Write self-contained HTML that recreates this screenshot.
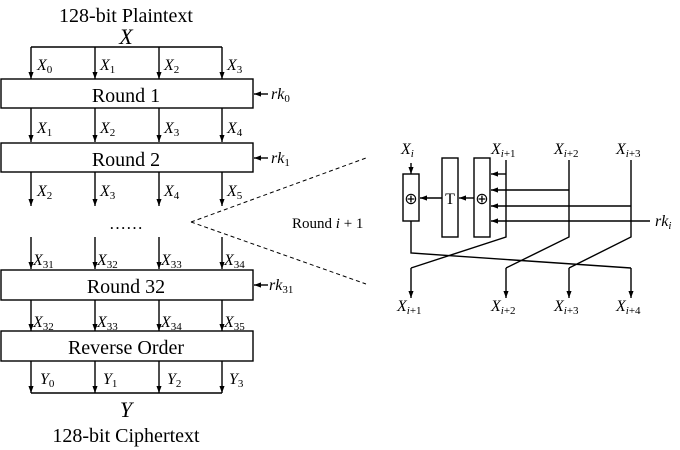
<!DOCTYPE html>
<html><head><meta charset="utf-8"><style>
html,body{margin:0;padding:0;background:#fff}
svg{display:block}
text{font-family:"Liberation Serif",serif;fill:#000}
.i{font-style:italic}
</style></head><body>
<svg width="680" height="450" viewBox="0 0 680 450" xmlns="http://www.w3.org/2000/svg">
<defs>
<marker id="a" viewBox="0 0 6 6" refX="6" refY="3" markerWidth="5" markerHeight="5" orient="auto"><path d="M0,0.8 L6,3 L0,5.2z" fill="#000"/></marker>
</defs>
<g stroke="#000" stroke-width="1.4" fill="none">
<path d="M31,47 H222"/>
<g marker-end="url(#a)">
<path d="M31,47 V79"/><path d="M95,47 V79"/><path d="M159,47 V79"/><path d="M222,47 V79"/>
<path d="M31,108 V142"/><path d="M95,108 V142"/><path d="M159,108 V142"/><path d="M222,108 V142"/>
<path d="M31,172 V206"/><path d="M95,172 V206"/><path d="M159,172 V206"/><path d="M222,172 V206"/>
<path d="M31,237 V269"/><path d="M95,237 V269"/><path d="M159,237 V269"/><path d="M222,237 V269"/>
<path d="M31,300 V331"/><path d="M95,300 V331"/><path d="M159,300 V331"/><path d="M222,300 V331"/>
<path d="M31,361 V393"/><path d="M95,361 V393"/><path d="M159,361 V393"/><path d="M222,361 V393"/>
<path d="M268,94 H254"/><path d="M268,158 H254"/><path d="M268,285 H254"/>
</g>
<path d="M31,393 H222"/>
<rect x="1" y="79" width="252" height="29"/>
<rect x="1" y="143" width="252" height="29"/>
<rect x="1" y="270" width="252" height="30"/>
<rect x="1" y="331" width="252" height="30"/>
<path d="M191,222 L366,158 M191,222 L366,284" stroke-dasharray="4,3" stroke-width="1"/>
<rect x="403" y="174" width="16" height="47"/>
<rect x="442" y="158" width="16" height="79"/>
<rect x="474" y="158" width="16" height="79"/>
<g marker-end="url(#a)">
<path d="M411,163 V174"/>
<path d="M442,198 H420"/>
<path d="M474,198 H459"/>
<path d="M506,174 H491"/>
<path d="M569,190 H491"/>
<path d="M631,206 H491"/>
<path d="M650,221 H491"/>
<path d="M411,268 V298"/>
<path d="M506,268 V298"/>
<path d="M569,268 V298"/>
<path d="M631,268 V298"/>
</g>
<path d="M506,160 V237 L411,268"/>
<path d="M569,160 V237 L506,268"/>
<path d="M631,160 V237 L569,268"/>
<path d="M411,221 V253 L631,268"/>
</g>
<text x="126" y="22" font-size="20" text-anchor="middle">128-bit Plaintext</text>
<text x="126" y="44" font-size="22" text-anchor="middle" class="i">X</text>
<text x="126" y="102" font-size="20" text-anchor="middle">Round 1</text>
<text x="126" y="166" font-size="20" text-anchor="middle">Round 2</text>
<text x="126" y="293" font-size="20" text-anchor="middle">Round 32</text>
<text x="126" y="354" font-size="20" text-anchor="middle">Reverse Order</text>
<text x="126" y="229" font-size="17" text-anchor="middle">……</text>
<text x="126" y="417" font-size="22" text-anchor="middle" class="i">Y</text>
<text x="126" y="442" font-size="20" text-anchor="middle">128-bit Ciphertext</text>
<g font-size="16">
<text x="37" y="70" class="i">X<tspan font-size="11" dy="3" font-style="normal">0</tspan></text>
<text x="100" y="70" class="i">X<tspan font-size="11" dy="3" font-style="normal">1</tspan></text>
<text x="164" y="70" class="i">X<tspan font-size="11" dy="3" font-style="normal">2</tspan></text>
<text x="227" y="70" class="i">X<tspan font-size="11" dy="3" font-style="normal">3</tspan></text>
<text x="37" y="133" class="i">X<tspan font-size="11" dy="3" font-style="normal">1</tspan></text>
<text x="100" y="133" class="i">X<tspan font-size="11" dy="3" font-style="normal">2</tspan></text>
<text x="164" y="133" class="i">X<tspan font-size="11" dy="3" font-style="normal">3</tspan></text>
<text x="227" y="133" class="i">X<tspan font-size="11" dy="3" font-style="normal">4</tspan></text>
<text x="37" y="196" class="i">X<tspan font-size="11" dy="3" font-style="normal">2</tspan></text>
<text x="100" y="196" class="i">X<tspan font-size="11" dy="3" font-style="normal">3</tspan></text>
<text x="164" y="196" class="i">X<tspan font-size="11" dy="3" font-style="normal">4</tspan></text>
<text x="227" y="196" class="i">X<tspan font-size="11" dy="3" font-style="normal">5</tspan></text>
<text x="33" y="265" class="i">X<tspan font-size="11" dy="3" font-style="normal">31</tspan></text>
<text x="97" y="265" class="i">X<tspan font-size="11" dy="3" font-style="normal">32</tspan></text>
<text x="161" y="265" class="i">X<tspan font-size="11" dy="3" font-style="normal">33</tspan></text>
<text x="224" y="265" class="i">X<tspan font-size="11" dy="3" font-style="normal">34</tspan></text>
<text x="33" y="327" class="i">X<tspan font-size="11" dy="3" font-style="normal">32</tspan></text>
<text x="97" y="327" class="i">X<tspan font-size="11" dy="3" font-style="normal">33</tspan></text>
<text x="161" y="327" class="i">X<tspan font-size="11" dy="3" font-style="normal">34</tspan></text>
<text x="224" y="327" class="i">X<tspan font-size="11" dy="3" font-style="normal">35</tspan></text>
<text x="40" y="384" class="i">Y<tspan font-size="11" dy="3" font-style="normal">0</tspan></text>
<text x="103" y="384" class="i">Y<tspan font-size="11" dy="3" font-style="normal">1</tspan></text>
<text x="167" y="384" class="i">Y<tspan font-size="11" dy="3" font-style="normal">2</tspan></text>
<text x="229" y="384" class="i">Y<tspan font-size="11" dy="3" font-style="normal">3</tspan></text>
<text x="271" y="99" class="i">rk<tspan font-size="11" dy="3" font-style="normal">0</tspan></text>
<text x="271" y="163" class="i">rk<tspan font-size="11" dy="3" font-style="normal">1</tspan></text>
<text x="269" y="290" class="i">rk<tspan font-size="11" dy="3" font-style="normal">31</tspan></text>
<text x="292" y="228" font-size="15">Round <tspan class="i">i</tspan> + 1</text>
<text x="401" y="154" class="i">X<tspan font-size="11" dy="3">i</tspan></text>
<text x="491" y="154" class="i">X<tspan font-size="11" dy="3">i</tspan><tspan font-size="11" font-style="normal">+1</tspan></text>
<text x="554" y="154" class="i">X<tspan font-size="11" dy="3">i</tspan><tspan font-size="11" font-style="normal">+2</tspan></text>
<text x="616" y="154" class="i">X<tspan font-size="11" dy="3">i</tspan><tspan font-size="11" font-style="normal">+3</tspan></text>
<text x="655" y="226" class="i">rk<tspan font-size="11" dy="3">i</tspan></text>
<text x="397" y="311" class="i">X<tspan font-size="11" dy="3">i</tspan><tspan font-size="11" font-style="normal">+1</tspan></text>
<text x="491" y="311" class="i">X<tspan font-size="11" dy="3">i</tspan><tspan font-size="11" font-style="normal">+2</tspan></text>
<text x="554" y="311" class="i">X<tspan font-size="11" dy="3">i</tspan><tspan font-size="11" font-style="normal">+3</tspan></text>
<text x="616" y="311" class="i">X<tspan font-size="11" dy="3">i</tspan><tspan font-size="11" font-style="normal">+4</tspan></text>
<text x="411" y="204" text-anchor="middle" font-size="16">⊕</text>
<text x="450" y="204" text-anchor="middle" font-size="16">T</text>
<text x="482" y="204" text-anchor="middle" font-size="16">⊕</text>
</g>
</svg>
</body></html>
